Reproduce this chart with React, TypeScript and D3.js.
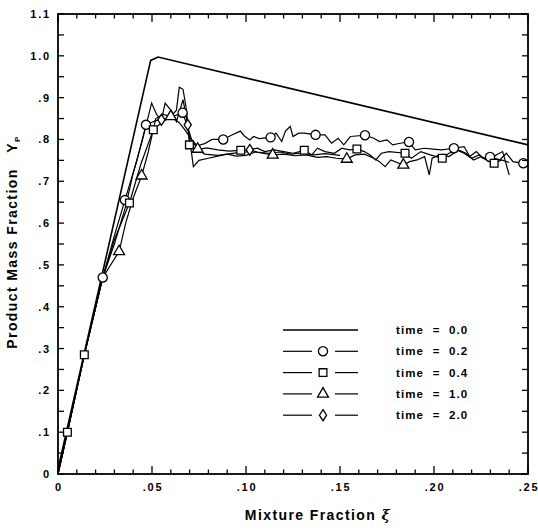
import React from 'react'
import * as d3 from 'd3'

// values
const xTicksMajor = [0, 0.05, 0.1, 0.15, 0.2, 0.25]
const xTickLabels = ['0', '.05', '.10', '.15', '.20', '.25']
const yTicksMajor = [0, 0.1, 0.2, 0.3, 0.4, 0.5, 0.6, 0.7, 0.8, 0.9, 1.0, 1.1]
const yTickLabels = ['0', '.1', '.2', '.3', '.4', '.5', '.6', '.7', '.8', '.9', '1.0', '1.1']

const time00 = [[0, 0.012], [0.0493, 0.989], [0.0532, 0.997], [0.25, 0.787]]

const time02 = [
  [0, 0], [0.005, 0.1], [0.014, 0.285], [0.0238, 0.47], [0.03, 0.57], [0.0356, 0.655],
  [0.042, 0.75], [0.0468, 0.835], [0.052, 0.845], [0.058, 0.85], [0.0663, 0.864],
  [0.069, 0.83], [0.071, 0.8], [0.074, 0.785], [0.078, 0.79], [0.082, 0.8], [0.0879, 0.8],
  [0.093, 0.812], [0.097, 0.82], [0.099, 0.809], [0.102, 0.799], [0.104, 0.807], [0.107, 0.802],
  [0.1131, 0.805], [0.116, 0.815], [0.119, 0.795], [0.121, 0.82], [0.1235, 0.831], [0.125, 0.807],
  [0.128, 0.815], [0.131, 0.815], [0.137, 0.811], [0.142, 0.811], [0.1455, 0.791], [0.149, 0.803],
  [0.152, 0.787], [0.1555, 0.807], [0.1633, 0.81], [0.168, 0.803], [0.171, 0.795], [0.175, 0.799],
  [0.178, 0.787], [0.182, 0.791], [0.1867, 0.794], [0.19, 0.775], [0.195, 0.779], [0.1995, 0.777],
  [0.204, 0.775], [0.2106, 0.779], [0.216, 0.783], [0.219, 0.759], [0.2225, 0.771], [0.226, 0.755],
  [0.2298, 0.758], [0.235, 0.751], [0.2385, 0.767], [0.242, 0.747], [0.2475, 0.743], [0.25, 0.745],
]
const marks02 = [
  [0.0238, 0.47], [0.0356, 0.655], [0.0468, 0.835], [0.0663, 0.864], [0.0879, 0.8], [0.1131, 0.805],
  [0.137, 0.811], [0.1633, 0.81], [0.1867, 0.794], [0.2106, 0.779], [0.2298, 0.758], [0.2475, 0.743],
]

const time04 = [
  [0, 0], [0.005, 0.1], [0.014, 0.285], [0.0238, 0.47], [0.03, 0.56], [0.038, 0.648], [0.044, 0.74],
  [0.0507, 0.823], [0.055, 0.84], [0.06, 0.855], [0.063, 0.87], [0.0645, 0.925], [0.0665, 0.92],
  [0.068, 0.88], [0.069, 0.84], [0.0699, 0.787], [0.074, 0.775], [0.079, 0.78], [0.085, 0.775],
  [0.091, 0.772], [0.0972, 0.774], [0.101, 0.775], [0.106, 0.779], [0.11, 0.771], [0.115, 0.775],
  [0.12, 0.771], [0.125, 0.767], [0.131, 0.774], [0.135, 0.763], [0.138, 0.779], [0.142, 0.771],
  [0.147, 0.767], [0.151, 0.779], [0.155, 0.775], [0.159, 0.777], [0.163, 0.771], [0.166, 0.763],
  [0.169, 0.751], [0.172, 0.767], [0.176, 0.771], [0.1846, 0.767], [0.188, 0.755], [0.193, 0.771],
  [0.198, 0.763], [0.2044, 0.755], [0.208, 0.767], [0.212, 0.775], [0.216, 0.767], [0.22, 0.755],
  [0.224, 0.763], [0.228, 0.751], [0.232, 0.743], [0.236, 0.751], [0.24, 0.745],
]
const marks04 = [
  [0.005, 0.1], [0.014, 0.285], [0.038, 0.648], [0.0507, 0.823], [0.0699, 0.787], [0.0972, 0.774],
  [0.131, 0.774], [0.159, 0.777], [0.1846, 0.767], [0.2044, 0.755], [0.232, 0.743],
]

const time10 = [
  [0, 0], [0.005, 0.1], [0.014, 0.285], [0.0238, 0.47], [0.0325, 0.532], [0.036, 0.6], [0.04, 0.66],
  [0.0445, 0.713], [0.048, 0.77], [0.052, 0.85], [0.056, 0.86], [0.06, 0.855], [0.0645, 0.84],
  [0.068, 0.82], [0.0743, 0.777], [0.078, 0.765], [0.085, 0.762], [0.09, 0.765], [0.095, 0.76],
  [0.1, 0.762], [0.105, 0.77], [0.1142, 0.763], [0.12, 0.765], [0.126, 0.761], [0.132, 0.763],
  [0.138, 0.757], [0.143, 0.759], [0.148, 0.755], [0.1536, 0.753], [0.158, 0.763], [0.163, 0.765],
  [0.168, 0.755], [0.171, 0.747], [0.174, 0.735], [0.177, 0.751], [0.1837, 0.739], [0.187, 0.747],
  [0.191, 0.751], [0.195, 0.759], [0.1975, 0.715], [0.199, 0.755], [0.203, 0.763], [0.208, 0.759],
  [0.213, 0.775], [0.217, 0.767], [0.221, 0.751], [0.225, 0.759], [0.229, 0.747], [0.233, 0.763],
  [0.2365, 0.771], [0.24, 0.715],
]
const marks10 = [
  [0.0325, 0.532], [0.0445, 0.713], [0.06, 0.855], [0.0743, 0.777], [0.1142, 0.763],
  [0.1536, 0.753], [0.1837, 0.739],
]

const time20 = [
  [0, 0], [0.005, 0.1], [0.014, 0.285], [0.0238, 0.47], [0.03, 0.55], [0.036, 0.64], [0.04, 0.72],
  [0.045, 0.8], [0.0498, 0.887], [0.0525, 0.859], [0.055, 0.847], [0.057, 0.887], [0.0605, 0.867],
  [0.063, 0.843], [0.0665, 0.895], [0.069, 0.835], [0.072, 0.735], [0.075, 0.75], [0.08, 0.755],
  [0.085, 0.76], [0.09, 0.765], [0.095, 0.768], [0.1, 0.77], [0.102, 0.775], [0.106, 0.77],
  [0.112, 0.767], [0.118, 0.77], [0.124, 0.765], [0.13, 0.768], [0.136, 0.763], [0.142, 0.766],
  [0.15, 0.762],
]
const marks20 = [[0.055, 0.847], [0.069, 0.835], [0.102, 0.775]]

const legendLabels = ['time  =  0.0', 'time  =  0.2', 'time  =  0.4', 'time  =  1.0', 'time  =  2.0']
const legendMarkers = ['none', 'circle', 'square', 'triangle', 'diamond']

const x = d3.scaleLinear().domain([0, 0.25]).range([58, 528])
const y = d3.scaleLinear().domain([0, 1.1]).range([474, 14])

const line = d3.line<number[]>().x(d => x(d[0])).y(d => y(d[1]))

function markerPath(kind: string) {
  if (kind === 'circle') return d3.symbol().type(d3.symbolCircle).size(66)()
  if (kind === 'square') return d3.symbol().type(d3.symbolSquare).size(60)()
  if (kind === 'triangle') return d3.symbol().type(d3.symbolTriangle).size(52)()
  if (kind === 'diamond') return 'M0,-5.5L3.6,0L0,5.5L-3.6,0Z'
  return ''
}

function Marker({ kind, cx, cy }: { kind: string; cx: number; cy: number }) {
  return (
    <path d={markerPath(kind) || ''} transform={`translate(${cx},${cy})`}
      fill="white" stroke="black" strokeWidth={1.3} />
  )
}

export default function App() {
  const minorX = d3.range(0, 26).map(i => i / 100)
  const minorY = d3.range(0, 23).map(i => i * 0.05)
  const font = 'Liberation Sans, Arial, sans-serif'
  const tickFont = { fontFamily: font, fontWeight: 700, fontSize: 11, letterSpacing: 1.8 }
  const titleFont = { fontFamily: font, fontWeight: 700, fontSize: 14, letterSpacing: 1.4, whiteSpace: 'pre' as const }
  const series = [
    { pts: time02, marks: marks02, kind: 'circle' },
    { pts: time04, marks: marks04, kind: 'square' },
    { pts: time10, marks: marks10, kind: 'triangle' },
    { pts: time20, marks: marks20, kind: 'diamond' },
  ]

  return (
    <svg width={538} height={532} style={{ position: 'absolute', left: 0, top: 0, background: 'white' }}>
      {/* data lines */}
      <path d={line(time00) || ''} fill="none" stroke="black" strokeWidth={1.6} />
      {series.map((s, i) => (
        <path key={i} d={line(s.pts) || ''} fill="none" stroke="black" strokeWidth={1.2} />
      ))}
      {series.map((s, i) => s.marks.map((m, j) => (
        <Marker key={i + '-' + j} kind={s.kind} cx={x(m[0])} cy={y(m[1])} />
      )))}

      {/* frame */}
      <rect x={x(0)} y={y(1.1)} width={x(0.25) - x(0)} height={y(0) - y(1.1)}
        fill="none" stroke="black" strokeWidth={1.8} />

      {/* x ticks */}
      {minorX.map((v, i) => {
        const len = i % 5 === 0 ? 8 : 4.5
        return (
          <g key={'xt' + i}>
            <line x1={x(v)} x2={x(v)} y1={y(0)} y2={y(0) - len} stroke="black" strokeWidth={1.3} />
            <line x1={x(v)} x2={x(v)} y1={y(1.1)} y2={y(1.1) + len} stroke="black" strokeWidth={1.3} />
          </g>
        )
      })}
      {/* y ticks */}
      {minorY.map((v, i) => (
        <g key={'yt' + i}>
          <line x1={x(0)} x2={x(0) + 6} y1={y(v)} y2={y(v)} stroke="black" strokeWidth={1.3} />
          <line x1={x(0.25)} x2={x(0.25) - 6} y1={y(v)} y2={y(v)} stroke="black" strokeWidth={1.3} />
        </g>
      ))}

      {xTicksMajor.map((v, i) => (
        <text key={'xl' + i} x={x(v) + 1} y={y(0) + 17} textAnchor="middle" style={tickFont}>{xTickLabels[i]}</text>
      ))}
      {yTicksMajor.map((v, i) => (
        <text key={'yl' + i} x={x(0) - 7} y={y(v)} dy="0.36em" textAnchor="end" style={tickFont}>{yTickLabels[i]}</text>
      ))}

      {/* axis titles */}
      <text x={318} y={520} textAnchor="middle" style={titleFont}>
        Mixture Fraction <tspan fontStyle="italic" fontFamily="DejaVu Serif">ξ</tspan>
      </text>
      <text transform={`translate(17,${(y(0) + y(1.1)) / 2 - 2}) rotate(-90)`} textAnchor="middle" style={titleFont}>
        {'Product Mass Fraction   Y'}<tspan fontSize={8} dy={3}>P</tspan>
      </text>

      {/* legend */}
      {legendLabels.map((lab, i) => {
        const ly = 330 + i * 21.3
        const kind = legendMarkers[i]
        return (
          <g key={'lg' + i}>
            {kind === 'none' ? (
              <line x1={283} x2={358} y1={ly} y2={ly} stroke="black" strokeWidth={1.4} />
            ) : (
              <>
                <line x1={283} x2={312} y1={ly} y2={ly} stroke="black" strokeWidth={1.2} />
                <line x1={335} x2={358} y1={ly} y2={ly} stroke="black" strokeWidth={1.2} />
                <Marker kind={kind} cx={323} cy={ly} />
              </>
            )}
            <text x={396} y={ly} dy="0.36em" style={{ ...tickFont, fontSize: 11.5, letterSpacing: 1.1, whiteSpace: 'pre' }}>
              {lab}
            </text>
          </g>
        )
      })}
    </svg>
  )
}
